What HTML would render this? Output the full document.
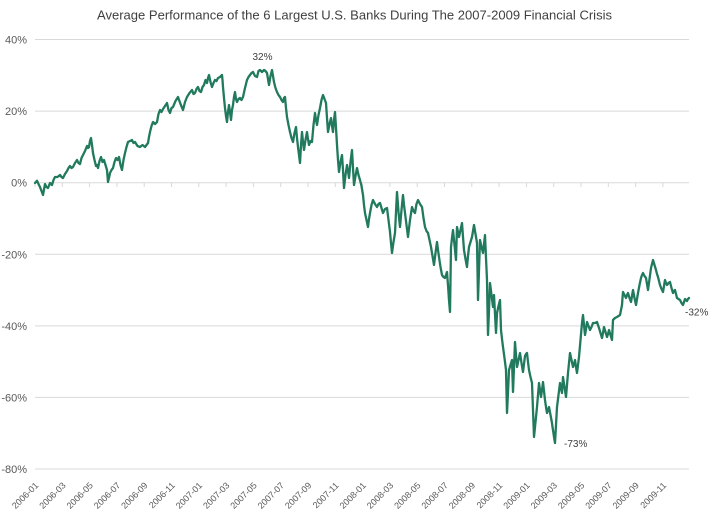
<!DOCTYPE html>
<html>
<head>
<meta charset="utf-8">
<style>
  html, body { margin:0; padding:0; background:#ffffff; }
  body { width:710px; height:511px; overflow:hidden; }
  svg { display:block; }
  text { font-family: "Liberation Sans", "DejaVu Sans", sans-serif; }
</style>
</head>
<body>
<svg width="710" height="511" viewBox="0 0 710 511" xmlns="http://www.w3.org/2000/svg">
  <rect x="0" y="0" width="710" height="511" fill="#ffffff"/>
  <!-- Title -->
  <text x="97" y="19.5" font-size="13" fill="#404040" textLength="515" lengthAdjust="spacingAndGlyphs">Average Performance of the 6 Largest U.S. Banks During The 2007-2009 Financial Crisis</text>

  <!-- Gridlines -->
  <g stroke="#d9d9d9" stroke-width="1">
    <line x1="35" y1="39.5" x2="689" y2="39.5"/>
    <line x1="35" y1="111.1" x2="689" y2="111.1"/>
    <line x1="35" y1="182.7" x2="689" y2="182.7"/>
    <line x1="35" y1="254.3" x2="689" y2="254.3"/>
    <line x1="35" y1="325.9" x2="689" y2="325.9"/>
    <line x1="35" y1="397.4" x2="689" y2="397.4"/>
    <line x1="35" y1="469.0" x2="689" y2="469.0"/>
  </g>

  <!-- Y labels -->
  <g font-size="11" fill="#595959" text-anchor="end">
    <text x="27" y="43.5">40%</text>
    <text x="27" y="115">20%</text>
    <text x="27" y="186.7">0%</text>
    <text x="27" y="258.3">-20%</text>
    <text x="27" y="329.9">-40%</text>
    <text x="27" y="401.4">-60%</text>
    <text x="27" y="473">-80%</text>
  </g>

  <!-- X ticks on 0% axis -->
  <g stroke="#d9d9d9" stroke-width="1">
    <line x1="35" y1="182.7" x2="35" y2="187"/>
    <line x1="62.3" y1="182.7" x2="62.3" y2="187"/>
    <line x1="89.6" y1="182.7" x2="89.6" y2="187"/>
    <line x1="116.9" y1="182.7" x2="116.9" y2="187"/>
    <line x1="144.2" y1="182.7" x2="144.2" y2="187"/>
    <line x1="171.5" y1="182.7" x2="171.5" y2="187"/>
    <line x1="198.8" y1="182.7" x2="198.8" y2="187"/>
    <line x1="226.1" y1="182.7" x2="226.1" y2="187"/>
    <line x1="253.4" y1="182.7" x2="253.4" y2="187"/>
    <line x1="280.7" y1="182.7" x2="280.7" y2="187"/>
    <line x1="308" y1="182.7" x2="308" y2="187"/>
    <line x1="335.3" y1="182.7" x2="335.3" y2="187"/>
    <line x1="362.6" y1="182.7" x2="362.6" y2="187"/>
    <line x1="389.9" y1="182.7" x2="389.9" y2="187"/>
    <line x1="417.2" y1="182.7" x2="417.2" y2="187"/>
    <line x1="444.5" y1="182.7" x2="444.5" y2="187"/>
    <line x1="471.8" y1="182.7" x2="471.8" y2="187"/>
    <line x1="499.1" y1="182.7" x2="499.1" y2="187"/>
    <line x1="526.4" y1="182.7" x2="526.4" y2="187"/>
    <line x1="553.7" y1="182.7" x2="553.7" y2="187"/>
    <line x1="581" y1="182.7" x2="581" y2="187"/>
    <line x1="608.3" y1="182.7" x2="608.3" y2="187"/>
    <line x1="635.6" y1="182.7" x2="635.6" y2="187"/>
    <line x1="662.9" y1="182.7" x2="662.9" y2="187"/>
  </g>

  <!-- X labels -->
  <g font-size="9" fill="#595959" text-anchor="end">
    <text x="39" y="486" transform="rotate(-45 39 486)">2006-01</text>
    <text x="66.3" y="486" transform="rotate(-45 66.3 486)">2006-03</text>
    <text x="93.6" y="486" transform="rotate(-45 93.6 486)">2006-05</text>
    <text x="120.9" y="486" transform="rotate(-45 120.9 486)">2006-07</text>
    <text x="148.2" y="486" transform="rotate(-45 148.2 486)">2006-09</text>
    <text x="175.5" y="486" transform="rotate(-45 175.5 486)">2006-11</text>
    <text x="202.8" y="486" transform="rotate(-45 202.8 486)">2007-01</text>
    <text x="230.1" y="486" transform="rotate(-45 230.1 486)">2007-03</text>
    <text x="257.4" y="486" transform="rotate(-45 257.4 486)">2007-05</text>
    <text x="284.7" y="486" transform="rotate(-45 284.7 486)">2007-07</text>
    <text x="312" y="486" transform="rotate(-45 312 486)">2007-09</text>
    <text x="339.3" y="486" transform="rotate(-45 339.3 486)">2007-11</text>
    <text x="366.6" y="486" transform="rotate(-45 366.6 486)">2008-01</text>
    <text x="393.9" y="486" transform="rotate(-45 393.9 486)">2008-03</text>
    <text x="421.2" y="486" transform="rotate(-45 421.2 486)">2008-05</text>
    <text x="448.5" y="486" transform="rotate(-45 448.5 486)">2008-07</text>
    <text x="475.8" y="486" transform="rotate(-45 475.8 486)">2008-09</text>
    <text x="503.1" y="486" transform="rotate(-45 503.1 486)">2008-11</text>
    <text x="530.4" y="486" transform="rotate(-45 530.4 486)">2009-01</text>
    <text x="557.7" y="486" transform="rotate(-45 557.7 486)">2009-03</text>
    <text x="585" y="486" transform="rotate(-45 585 486)">2009-05</text>
    <text x="612.3" y="486" transform="rotate(-45 612.3 486)">2009-07</text>
    <text x="639.6" y="486" transform="rotate(-45 639.6 486)">2009-09</text>
    <text x="666.9" y="486" transform="rotate(-45 666.9 486)">2009-11</text>
  </g>

  <!-- Series -->
  <polyline fill="none" stroke="#217a5d" stroke-width="2.3" stroke-linejoin="round" stroke-linecap="round"
    points="35,183 37,180.7 38.5,184 40,187 41.5,191 43,195 45,184 46.5,187 48,188 50,183 52,185 53.5,180 55,177 57.5,177 60,175 61.5,177 63,178 65,174 67,171 68.5,168 70,166 71.5,168 73,167 75,163 77,160 78.5,163 80,164 81.5,158 83,155 85,151 87,146 88,148 89,147 90,141 91,138 92,145 93,153 94.5,160 96,166 97,165 98,168 99.5,161 101,157 102.5,162 104,160 105.5,165 107,170 108,182 109,178 110,173 111.5,170 113,168 114.5,162 116,158 117.5,160 119,157 120.5,165 122,170 123.5,160 125,153 126.5,147 128,142 130,141 132,140 133.5,143 135,142 137.5,146 140,147 142.5,145 145,147 146.5,145 148,143 149,137 150,132 151.5,126 153,122 155,124 157,122 158.5,114 160,110 161.5,112 163,109 165,106 167,103 168.5,110 170,113 171.5,108 173,107 175.5,101 178,97 180.5,104 183,110 185,102 187,97 189.5,93 192,90 193.5,94 195,93 196.5,89 198,87 199.5,91 201,92 202.5,87 204,85 205.5,80 207,83 208,78 209,75 210.5,82 212,87 213.5,83 215,80 216.5,81 218,78 220,77 222,75 222.5,80 223,87 224,98 225,108 226,116 227,122 228,112 229,105 230,112 231,120 232,110 233,105 234,97 235,92 236,99 237,102 238.5,99 240,98 241.5,100 243,97 245,88 247,80 248.5,77 250,75 251.5,73 253,72 255,76 257,77 258.5,71 260,70 262,72 264,70 265.5,71 267,73 268,79 269,85 270.5,76 272,70 273,76 274,82 275.5,88 277,92 278.5,95 280,97 281.5,100 283,102 284,98 285,97 286,108 287,117 288.5,125 290,132 291.5,138 293,142 294.5,133 296,127 297,138 298,147 299,155 300,163 301,145 302,132 303,142 304,150 305.5,140 307,132 308,139 309,145 310.5,141 312,142 313.5,125 315,113 316,120 317,125 318.5,115 320,108 321.5,100 323,95 324.5,99 326,103 327,118 328,132 329.5,124 331,118 332,126 333,132 334,120 335,112 336,128 337,145 338,160 339,172 340.5,162 342,155 343,170 344,188 345.5,175 347,165 348,171 349,178 350.5,162 352,150 353,168 354,185 355.5,176 357,168 358.5,175 360,180 361.5,186 363,195 364,205 365,213 366.5,220 368,227 369,219 370,213 371.5,205 373,200 375,204 377,207 378.5,204 380,203 381.5,208 383,213 385,209 387,208 388.5,220 390,232 391,243 392,253 393.5,242 395,233 396,212 397,192 398.5,212 400,227 401.5,210 403,195 404,205 405,213 406.5,225 408,237 410,220 412,207 413.5,211 415,213 416.5,204 418,200 420,204 422,207 423.5,218 425,227 426.5,231 428,233 429.5,240 431,247 432.5,256 434,265 435.5,253 437,242 438,250 439,257 440.5,267 442,275 443.5,277 445,278 446,275 447,272 447.5,279 448,285 449,300 450,312 450.5,280 451,247 452,238 453,230 454.5,245 456,260 456.5,243 457,227 458,232 459,237 460.5,230 462,223 463,237 464,250 465.5,259 467,267 468,256 469,247 470.5,242 472,237 473,231 474,225 475.5,234 477,243 477.5,270 478,300 479,270 480,240 481.5,247 483,253 484,244 485,235 486,258 487,280 487.5,310 488,335 489,310 490,283 491.5,295 493,307 493.5,301 494,295 495,314 496,333 496.5,323 497,313 498.5,306 500,300 500.5,315 501,330 502,339 503,347 504.5,358 506,370 506.5,392 507,413 508,392 509,370 510.5,365 512,360 512.5,376 513,392 514,367 515,342 516,355 517,367 518.5,360 520,353 521.5,363 523,372 524,364 525,356 526,354 527,353 528,362 529,370 530.5,377 532,383 533,410 534,437 535.5,422 537,407 538,395 539,383 540,390 541,397 542,390 543,382 544,391 545,400 546,407 547,413 548,410 549,407 550.5,415 552,423 552.5,427 553,430 554,437 555,443 556,425 557,407 558.5,395 560,383 561,388 562,393 562.5,385 563,377 564.5,387 566,397 567,385 568,373 569,363 570,353 571.5,360 573,367 574,364 575,360 576,367 577,373 578,365 579,357 580.5,340 582,323 582.5,319 583,315 584,325 585,335 586,329 587,322 588.5,326 590,330 591.5,327 593,323 595,323 597,322 598,325 599,328 600.5,333 602,338 603,333 604,327 605.5,332 607,337 608,334 609,330 610.5,335 612,340 612.5,330 613,320 615,318 617,317 618.5,316 620,315 621,310 622,305 622.5,298 623,292 624.5,295 626,298 627,295 628,293 629.5,298 631,302 632,296 633,290 634.5,298 636,305 637,299 638,293 639.5,285 641,278 642,275 643,273 644.5,276 646,278 647,284 648,290 649.5,279 651,268 652,264 653,260 654.5,265 656,270 657,274 658,277 659,281 660,285 661.5,289 663,292 664,286 665,280 666,283 667,285 668.5,283 670,282 671.5,288 673,293 674,291 675,290 676,294 677,298 678.5,299 680,300 681.5,303 683,305 684,302 685,299 686,300 687,301 688,299 689,298"/>

  <!-- Data labels -->
  <g font-size="10" fill="#404040">
    <text x="262.5" y="60" text-anchor="middle">32%</text>
    <text x="564" y="447">-73%</text>
    <text x="685" y="315.5">-32%</text>
  </g>
</svg>
</body>
</html>
